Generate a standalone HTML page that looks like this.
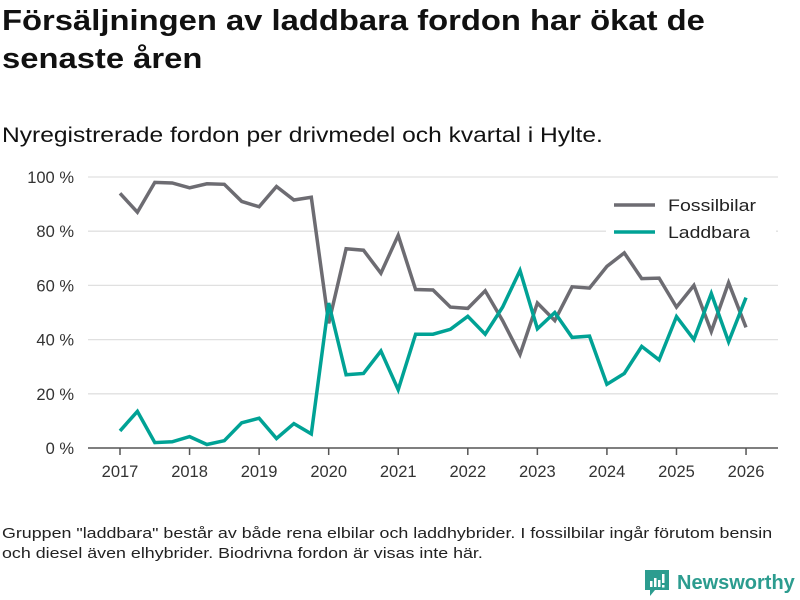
<!DOCTYPE html>
<html><head><meta charset="utf-8"><style>
body{margin:0;width:800px;height:600px;background:#fff;font-family:"Liberation Sans","DejaVu Sans",sans-serif;overflow:hidden;position:relative;color:#111}
h1{position:absolute;left:2px;top:2px;margin:0;font-size:29px;line-height:38px;font-weight:bold;white-space:nowrap;transform:scaleX(1.13);transform-origin:left top}
.sub{position:absolute;left:2px;top:124px;font-size:21px;white-space:nowrap;transform:scaleX(1.17);transform-origin:left top}
.foot{position:absolute;left:2px;top:524px;font-size:14.5px;line-height:20px;color:#222;white-space:nowrap;transform:scaleX(1.23);transform-origin:left top}
.logo{position:absolute;left:645px;top:570px;display:flex;align-items:center;color:#2c9c8f;font-weight:bold;font-size:20px}
</style></head><body>
<h1>Försäljningen av laddbara fordon har ökat de<br>senaste åren</h1>
<div class="sub">Nyregistrerade fordon per drivmedel och kvartal i Hylte.</div>
<svg id="chart" width="800" height="600" style="position:absolute;left:0;top:0"></svg>
<div class="foot">Gruppen "laddbara" består av både rena elbilar och laddhybrider. I fossilbilar ingår förutom bensin<br>och diesel även elhybrider. Biodrivna fordon är visas inte här.</div>
<div class="logo"><svg width="24" height="26" style="margin-right:8px"><path d="M0 0H24V20H10L5 26V20H0Z" fill="#2c9c8f"/><rect x="5" y="11" width="2.5" height="6" fill="#fff"/><rect x="9" y="8" width="2.5" height="9" fill="#fff"/><rect x="13" y="10" width="2.5" height="7" fill="#fff"/><rect x="17" y="4" width="2.5" height="9" fill="#fff"/><rect x="17" y="15" width="2.5" height="2.5" fill="#fff"/></svg>Newsworthy</div>
<script>
const years=[2017,2018,2019,2020,2021,2022,2023,2024,2025,2026];
const yTicks=[0,20,40,60,80,100];
const fossil=[94,87,98,97.8,96,97.5,97.3,91,89,96.5,91.5,92.5,46,73.5,73,64.5,78.5,58.5,58.3,52,51.5,58,47,34.5,53.5,47,59.5,59,67,72,62.5,62.7,52,60,43,61,44.5];
const laddbara=[6.3,13.5,2,2.3,4.2,1.3,2.7,9.3,11,3.5,9,5.2,53.5,27,27.5,35.8,21.5,42,42,43.8,48.6,42,52,65.5,44,50,40.8,41.3,23.5,27.5,37.5,32.5,48.5,40,57,39.2,55.5];
const NS="http://www.w3.org/2000/svg",svg=document.getElementById('chart');
const x=t=>120+(t-2017)*69.56, y=v=>448-v*2.71;
function mk(tag,at,txt){const e=document.createElementNS(NS,tag);for(const k in at)e.setAttribute(k,at[k]);if(txt!=null)e.textContent=txt;svg.appendChild(e);return e;}
yTicks.forEach(v=>{
  if(v>0){const g=mk('line',{x1:88,x2:778,y1:y(v),y2:y(v),stroke:'#e0e0e0','stroke-width':1.3});
  
  }
  const t=mk('text',{x:74,y:y(v)+6,'text-anchor':'end','font-size':16.5,fill:'#333'},v+' %');
  
  
});
const ax=mk('line',{x1:88,x2:778,y1:448,y2:448,stroke:'#555','stroke-width':1.5});


years.forEach(yr=>{
  mk('line',{x1:x(yr),x2:x(yr),y1:448,y2:455,stroke:'#555','stroke-width':1.5});
  const t=mk('text',{x:x(yr),y:477,'text-anchor':'middle','font-size':16.5,fill:'#333'},yr);
  
  
});
function series(d,c,n){
  const p=d.map((v,i)=>x(2017+i*0.25).toFixed(1)+','+y(v).toFixed(1)).join(' ');
  const l=mk('polyline',{points:p,fill:'none',stroke:c,'stroke-width':3.5,'stroke-linejoin':'miter'});
  
  
}
series(fossil,'#6d6c72','fossilbilar-line');
series(laddbara,'#00a295','laddbara-line');
mk('rect',{x:606,y:190,width:170,height:60,fill:'#fff'});
[['Fossilbilar','#6d6c72',205],['Laddbara','#00a295',232]].forEach(([n,c,yy])=>{
  mk('line',{x1:614,x2:655,y1:yy,y2:yy,stroke:c,'stroke-width':3.5});
  const t=mk('text',{x:668,y:yy+6,'font-size':17,fill:'#222',textLength:n==='Fossilbilar'?88:82,lengthAdjust:'spacingAndGlyphs'},n);
  
  
});
</script>
</body></html>
